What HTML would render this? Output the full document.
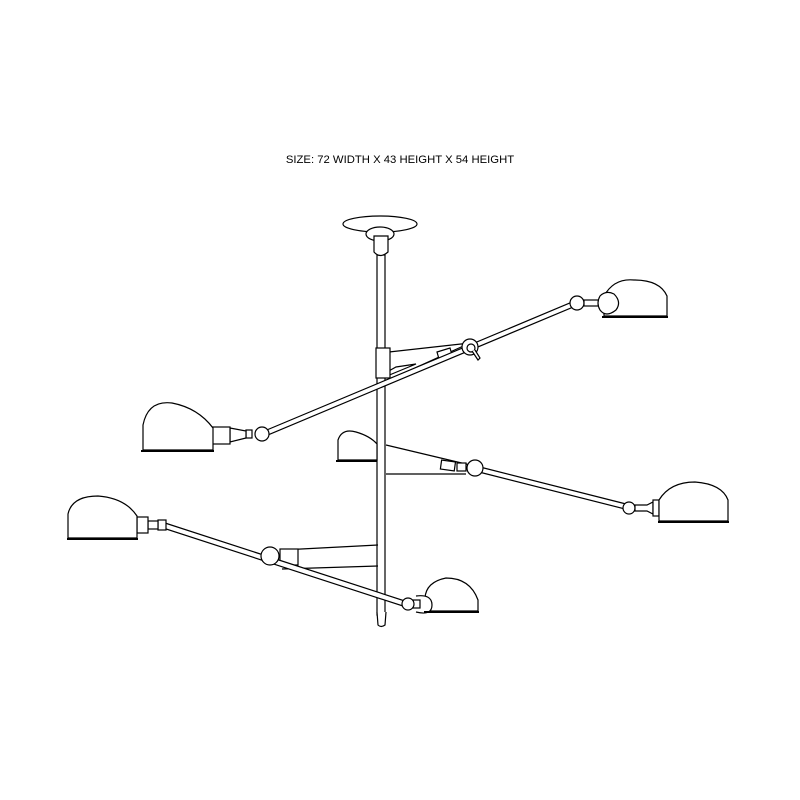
<!DOCTYPE html>
<html><head><style>body{margin:0;background:#fff}svg{display:block}</style></head><body>
<svg width="800" height="800" viewBox="0 0 800 800" xmlns="http://www.w3.org/2000/svg" fill="#fff" stroke="#000" stroke-width="1.2">
<text x="400" y="163" font-family="Liberation Sans, sans-serif" font-size="11.3" text-anchor="middle" fill="#000" stroke="none">SIZE: 72 WIDTH X 43 HEIGHT X 54 HEIGHT</text>
<!-- pole -->
<rect x="377" y="255" width="8" height="360"/>
<path d="M377 612 L378 625 Q381 628 385 625 L386 612"/>
<!-- canopy -->
<ellipse cx="380" cy="224" rx="37" ry="8"/>
<ellipse cx="380" cy="234" rx="14" ry="7"/>
<path d="M374 236 L374 252 Q380 259 388 252 L388 236 Z"/>
<!-- middle lamp behind pole -->
<path d="M338 460 L338 440 Q342 428 356 432 Q370 436 377 444 L377 460 Z"/>
<line x1="336" y1="461" x2="377" y2="461" stroke-width="2"/>
<!-- upper arm -->
<path d="M389 352 L470 343 L395 377"/>
<path d="M387 372 L396 367 L416 364 L387 376"/>
<rect x="376" y="348" width="14" height="30"/>
<path d="M437 352 L450 348 L452 355 L439 359 Z"/>
<path d="M262 432 L577 300 L578 305 L263 437 Z"/>
<circle cx="470" cy="347" r="8"/>
<circle cx="471" cy="348" r="4"/>
<path d="M472 351 L478 360 L480 358 L475 350"/>
<circle cx="577" cy="303" r="7"/>
<rect x="584" y="300" width="16" height="6"/>
<path d="M604 316 L604 296 Q614 278 634 280 Q660 280 667 296 L667 316 Z"/>
<path d="M600 296 Q596 303 600 310 Q606 318 616 310 Q622 302 614 294 Q606 290 600 296 Z"/>
<line x1="602" y1="317" x2="668" y2="317" stroke-width="2"/>
<circle cx="262" cy="434" r="7"/>
<rect x="246" y="430" width="6" height="8"/>
<path d="M230 428 L246 431 L246 438 L230 442 Z"/>
<rect x="212" y="427" width="18" height="17"/>
<path d="M143 450 L143 425 Q148 400 172 403 Q198 408 213 428 L213 450 Z"/>
<line x1="141" y1="451" x2="214" y2="451" stroke-width="2"/>
<!-- middle arm -->
<path d="M386 445 L470 465"/>
<line x1="386" y1="474" x2="466" y2="474"/>
<rect x="441" y="461" width="14" height="9" transform="rotate(8 448 465)"/>
<rect x="457" y="463" width="9" height="8"/>
<path d="M476 466 L630 505 L629 510 L475 471 Z"/>
<circle cx="475" cy="468" r="8"/>
<circle cx="629" cy="508" r="6"/>
<path d="M635 505 L647 505 L653 502 L653 514 L647 511 L635 511 Z"/>
<rect x="653" y="500" width="6" height="16"/>
<path d="M659 521 L659 500 Q670 482 695 482 Q722 484 728 500 L728 521 Z"/>
<line x1="658" y1="522" x2="729" y2="522" stroke-width="2"/>
<!-- lower arm -->
<path d="M282 550 L378 545"/>
<line x1="282" y1="569" x2="378" y2="566"/>
<rect x="280" y="549" width="18" height="16"/>
<path d="M165 523 L408 602 L406 607 L163 528 Z"/>
<circle cx="270" cy="556" r="9"/>
<rect x="158" y="520" width="8" height="10"/>
<rect x="148" y="521" width="10" height="8"/>
<rect x="137" y="517" width="11" height="16"/>
<path d="M68 538 L68 514 Q72 496 98 496 Q125 498 137 516 L137 538 Z"/>
<line x1="67" y1="539" x2="138" y2="539" stroke-width="2"/>
<path d="M425 611 L425 598 Q426 582 446 578 Q470 578 478 600 L478 611 Z"/>
<path d="M416 596 Q432 594 432 605 Q432 616 416 612"/>
<rect x="413" y="600" width="7" height="8"/>
<circle cx="408" cy="604" r="6"/>
<line x1="424" y1="612" x2="479" y2="612" stroke-width="2"/>
</svg>
</body></html>
